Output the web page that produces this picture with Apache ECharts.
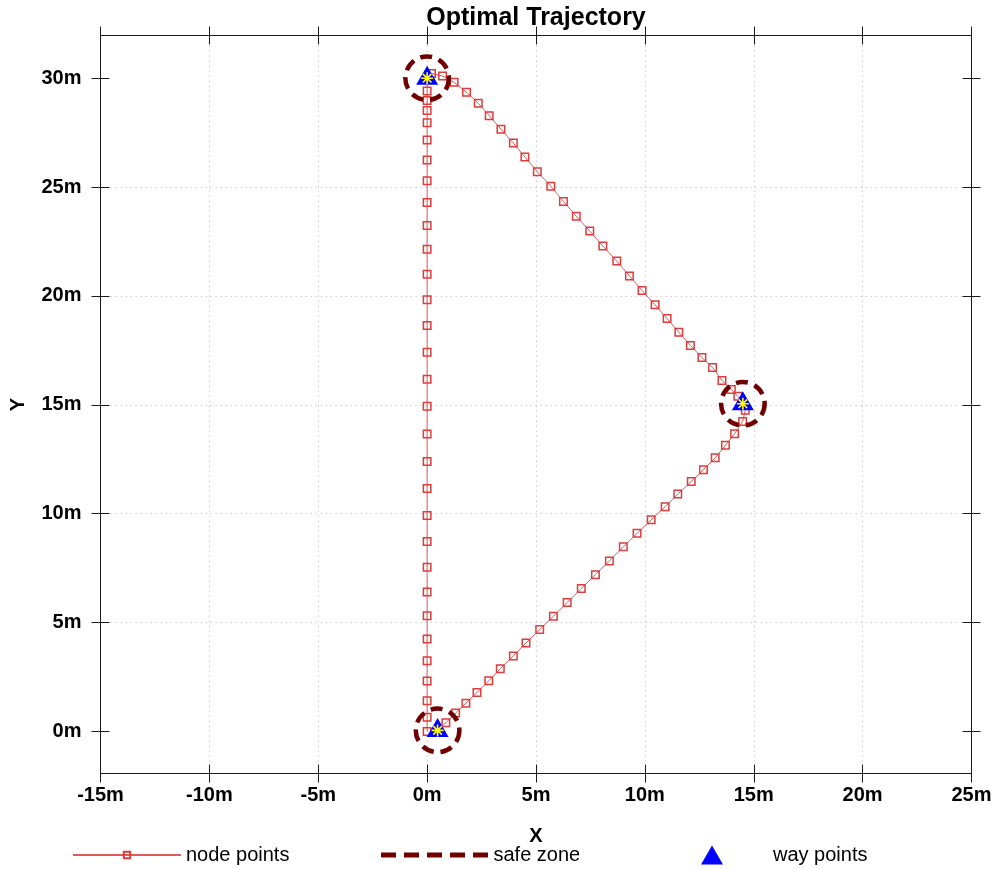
<!DOCTYPE html>
<html>
<head>
<meta charset="utf-8">
<script src="https://cdn.jsdelivr.net/npm/echarts@6/dist/echarts.min.js"></script>
<style>
html,body{margin:0;padding:0;background:#fff;}
#chart{width:995px;height:869px;}
</style>
</head>
<body>
<div id="chart"></div>
<script>
// ---- data ----
const titleText = 'Optimal Trajectory';
const xTicks = [-15, -10, -5, 0, 5, 10, 15, 20, 25];
const yTicks = [0, 5, 10, 15, 20, 25, 30];
const xRange = [-15, 25];
const yRange = [-1.93, 31.96];

// trajectory node points (x, y) in metres, in path order
const nodeX = [0.48, 0.86, 1.31, 1.78, 2.29, 2.83, 3.36, 3.96, 4.54, 5.17, 5.80, 6.43, 7.08, 7.73, 8.37, 9.01, 9.64, 10.29, 10.93, 11.51, 12.13, 12.69, 13.23, 13.70, 14.12, 14.49, 14.61, 14.50,
  14.27, 13.97, 13.54, 13.11, 12.62, 12.09, 11.56, 11.02, 10.47, 9.87, 9.29, 8.71, 8.07, 7.47, 6.85, 6.26, 5.68, 5.06, 4.49, 3.96, 3.39, 2.85, 2.35, 1.81, 1.24, 0.71, 0.20, 0.00,
  0.00, 0.00, 0.00, 0.00, 0.00, 0.00, 0.00, 0.00, 0.00, 0.00, 0.00, 0.00, 0.00, 0.00, 0.00, 0.00, 0.00, 0.00, 0.00, 0.00, 0.00, 0.00, 0.00, 0.00, 0.00, 0.00, 0.00, 0.00, 0.00, 0.00];
const nodeY = [0.06, 0.40, 0.85, 1.30, 1.79, 2.33, 2.88, 3.47, 4.06, 4.68, 5.29, 5.92, 6.56, 7.20, 7.83, 8.48, 9.10, 9.72, 10.32, 10.90, 11.48, 12.02, 12.57, 13.14, 13.67, 14.24, 14.75, 15.05,
  15.39, 15.70, 16.12, 16.71, 17.17, 17.73, 18.33, 18.96, 19.59, 20.25, 20.92, 21.60, 22.29, 22.98, 23.66, 24.34, 25.04, 25.70, 26.38, 27.02, 27.66, 28.28, 28.85, 29.35, 29.81, 30.10, 30.22, 30.00,
  29.41, 28.97, 28.52, 27.95, 27.16, 26.24, 25.29, 24.29, 23.24, 22.15, 21.00, 19.83, 18.64, 17.41, 16.17, 14.94, 13.66, 12.40, 11.16, 9.92, 8.72, 7.54, 6.41, 5.31, 4.25, 3.25, 2.32, 1.41, 0.65, 0.00];

// way points and safe-zone radii
const wayX = [0.48, 14.5, 0.0];
const wayY = [0.05, 15.05, 30.0];
const safeR = [1.0, 1.0, 1.0];

const legendNames = ['node points', 'safe zone', 'way points'];

// ---- styles ----
const FONT = "'Liberation Sans', Arial, Helvetica, sans-serif";
const AXIS_COLOR = '#1a1a1a';
const NODE_COLOR = '#dd3c3c';
const SAFE_COLOR = '#700000';
const WAY_COLOR = '#0000ff';
const STAR_COLOR = '#ffff00';
const TICK_HALF = 9;

const nodeData = nodeX.map((x, i) => [x, nodeY[i]]);
const wayData = wayX.map((x, i) => [x, wayY[i]]);
const safeData = wayX.map((x, i) => [x, wayY[i], safeR[i]]);

const gridLine = { show: true, showMinLine: false, showMaxLine: false, lineStyle: { color: '#cfcfcf', type: [1.5, 3.5], width: 1 } };

// axis shifted inward by TICK_HALF with outward ticks of 2*TICK_HALF -> ticks cross the frame
function mkX(position, main) {
  return {
    type: 'value', position: position, min: xRange[0], max: xRange[1], offset: -TICK_HALF,
    axisLine: { show: false, onZero: false },
    axisTick: { show: true, inside: false, length: 2 * TICK_HALF, customValues: xTicks, lineStyle: { color: AXIS_COLOR, width: 1 } },
    axisLabel: main ? {
      show: true, customValues: xTicks, margin: 12 + TICK_HALF, color: '#000', fontFamily: FONT, fontSize: 20, fontWeight: 'bold',
      formatter: v => v + 'm'
    } : { show: false },
    splitLine: main ? gridLine : { show: false },
    name: main ? 'X' : '', nameLocation: 'middle', nameGap: 53 + TICK_HALF,
    nameTextStyle: { color: '#000', fontFamily: FONT, fontSize: 20, fontWeight: 'bold' }
  };
}
function mkY(position, main) {
  return {
    type: 'value', position: position, min: yRange[0], max: yRange[1], offset: -TICK_HALF,
    axisLine: { show: false, onZero: false },
    axisTick: { show: true, inside: false, length: 2 * TICK_HALF, customValues: yTicks, lineStyle: { color: AXIS_COLOR, width: 1 } },
    axisLabel: main ? {
      show: true, customValues: yTicks, margin: 19 + TICK_HALF, color: '#000', fontFamily: FONT, fontSize: 20, fontWeight: 'bold',
      formatter: v => v + 'm'
    } : { show: false },
    splitLine: main ? gridLine : { show: false },
    name: main ? 'Y' : '', nameLocation: 'middle', nameGap: 72 + TICK_HALF,
    nameTextStyle: { color: '#000', fontFamily: FONT, fontSize: 20, fontWeight: 'bold' }
  };
}

const dashIcon = 'path://M0,0h15v5h-15zM23,0h15v5h-15zM46,0h15v5h-15zM69,0h15v5h-15zM92,0h15v5h-15z';
const triPath = 'path://M11,0L22,19L0,19Z';
const starPath = 'path://M0,-6L0,6M-6,0L6,0M-4.3,-4.3L4.3,4.3M-4.3,4.3L4.3,-4.3';

const chart = echarts.init(document.getElementById('chart'), null, { renderer: 'canvas' });
const option = {
  animation: false,
  backgroundColor: '#fff',
  title: {
    text: titleText, left: 536, top: 6, padding: 0, textAlign: 'center',
    textStyle: { color: '#000', fontFamily: FONT, fontSize: 25, fontWeight: 'bold' }
  },
  grid: { left: 100.5, right: 23.5, top: 35.5, bottom: 95.5, containLabel: false, show: true, borderColor: AXIS_COLOR, borderWidth: 1, backgroundColor: 'transparent' },
  xAxis: [mkX('bottom', true), mkX('top', false)],
  yAxis: [mkY('left', true), mkY('right', false)],
  legend: [
    {
      data: [legendNames[0]], left: 72, top: 845, itemWidth: 108, itemHeight: 8, padding: 0,
      textStyle: { color: '#000', fontFamily: FONT, fontSize: 20 }, selectedMode: false
    },
    {
      data: [{ name: legendNames[1], icon: dashIcon, itemStyle: { color: SAFE_COLOR, borderWidth: 0 } }],
      left: 381, top: 845, itemWidth: 108, itemHeight: 5, padding: 0,
      textStyle: { color: '#000', fontFamily: FONT, fontSize: 20 }, selectedMode: false
    },
    {
      data: [{ name: legendNames[2], icon: triPath, itemStyle: { color: WAY_COLOR, opacity: 1 } }],
      left: 701, top: 845, itemWidth: 22, itemHeight: 19, padding: 0,
      textStyle: { color: '#000', fontFamily: FONT, fontSize: 20, padding: [0, 0, 0, 45] }, selectedMode: false
    }
  ],
  series: [
    {
      name: legendNames[0], type: 'line', xAxisIndex: 0, yAxisIndex: 0, data: nodeData,
      showAllSymbol: true, symbol: 'rect', symbolSize: 7.5, z: 3,
      lineStyle: { color: '#e05a5a', width: 1 },
      itemStyle: { color: 'rgba(255,255,255,0)', borderColor: NODE_COLOR, borderWidth: 1.5 },
      emphasis: { disabled: true }
    },
    {
      name: legendNames[1], type: 'custom', xAxisIndex: 0, yAxisIndex: 0, data: safeData,
      encode: { x: 0, y: 1 }, z: 4,
      itemStyle: { color: SAFE_COLOR },
      renderItem: function (params, api) {
        const c = api.coord([api.value(0), api.value(1)]);
        const r = api.size([api.value(2), 0])[0];
        return {
          type: 'circle', shape: { cx: c[0], cy: c[1], r: r },
          style: { fill: 'none', stroke: SAFE_COLOR, lineWidth: 4.5, lineDash: [12, 7] }
        };
      }
    },
    {
      name: legendNames[2], type: 'scatter', xAxisIndex: 0, yAxisIndex: 0, data: wayData,
      symbol: triPath, symbolSize: [22, 19], symbolOffset: [0, -3], z: 5,
      itemStyle: { color: WAY_COLOR, opacity: 1 }, emphasis: { disabled: true }
    },
    {
      name: 'start', type: 'scatter', xAxisIndex: 0, yAxisIndex: 0, data: wayData,
      symbol: starPath, symbolSize: 12, z: 6,
      itemStyle: { color: 'none', borderColor: STAR_COLOR, borderWidth: 1.6, opacity: 1 }, emphasis: { disabled: true }
    }
  ]
};
chart.setOption(option);
</script>
</body>
</html>
